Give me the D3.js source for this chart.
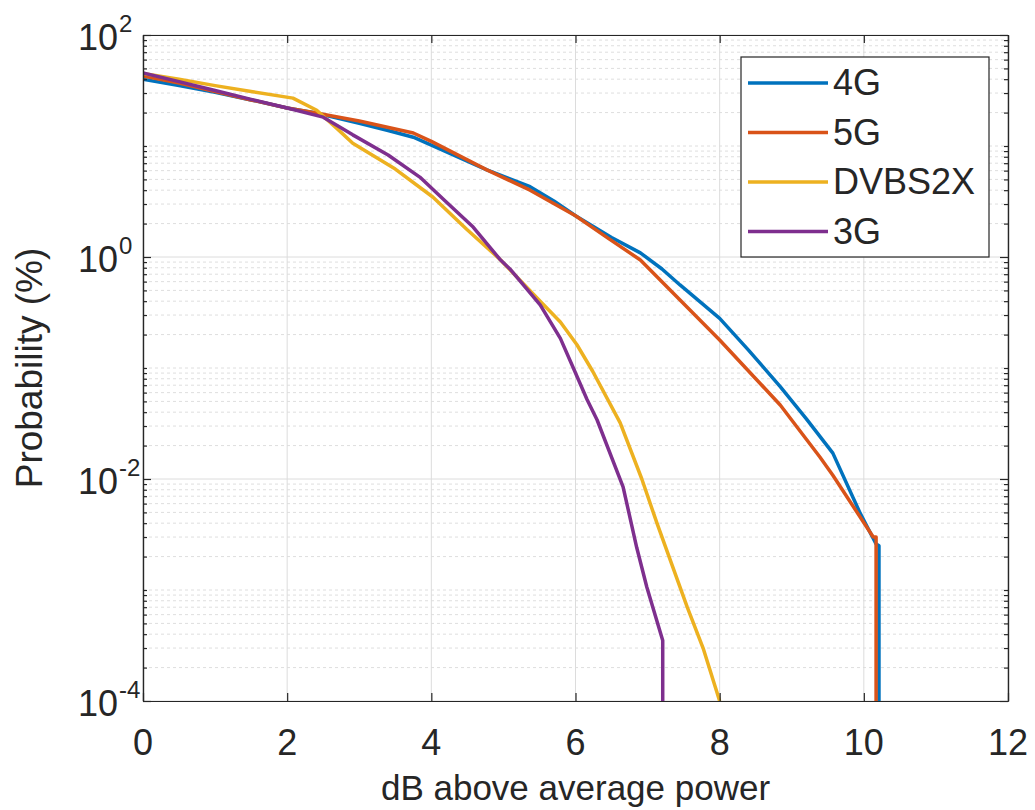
<!DOCTYPE html>
<html>
<head>
<meta charset="utf-8">
<script src="https://cdn.jsdelivr.net/npm/d3@7"></script>
<style>
  body { margin: 0; background: #fff; }
  svg { font-family: "Liberation Sans", Arial, Helvetica, sans-serif; }
</style>
</head>
<body>
<svg id="chart"></svg>
<script>
// CCDF of signal power
var seriesNames = ["4G", "5G", "DVBS2X", "3G"];
var seriesColors = ["#0072BD", "#D95319", "#EDB120", "#7E2F8E"];

var db4G = [0, 0.5, 1, 1.5, 2, 2.4, 3, 3.4, 3.75, 4, 4.77, 5.37, 5.7, 6, 6.5, 6.9, 7.2, 7.45, 8, 8.4, 8.84, 9.2, 9.57, 9.95, 10.17, 10.21, 10.21];
var prob4G = [40, 35, 30.5, 26, 22, 19.8, 16, 13.8, 12, 10.2, 6.1, 4.3, 3.2, 2.35, 1.5, 1.09, 0.78, 0.56, 0.28, 0.145, 0.068, 0.035, 0.0171, 0.0049, 0.0026, 0.0025, 0.0001];

var db5G = [0, 0.5, 1, 1.5, 2, 2.4, 3, 3.75, 4, 4.77, 5.37, 6, 6.45, 6.9, 7.45, 8, 8.84, 9.39, 9.57, 10.13, 10.17, 10.17];
var prob5G = [42.8, 37, 31, 26, 22, 19.8, 16.8, 13.1, 11, 6.1, 4.0, 2.35, 1.48, 0.94, 0.41, 0.179, 0.0464, 0.0158, 0.0108, 0.003, 0.003, 0.0001];

var dbDVB = [0, 0.5, 1, 1.5, 2.08, 2.41, 2.7, 2.91, 3.5, 4.02, 4.49, 4.95, 5.51, 5.79, 6.02, 6.24, 6.62, 6.92, 7.13, 7.55, 7.77, 8.0];
var probDVB = [45, 40, 35, 31, 27, 21, 14.2, 10.6, 6.2, 3.47, 1.78, 0.955, 0.4, 0.26, 0.162, 0.093, 0.032, 0.01, 0.004, 0.0007, 0.0003, 0.0001];

var db3G = [0, 0.5, 1, 1.5, 2, 2.5, 2.91, 3.4, 3.84, 4.2, 4.58, 4.95, 5.09, 5.51, 5.79, 5.97, 6.16, 6.3, 6.66, 6.85, 6.99, 7.21, 7.21];
var prob3G = [45.5, 38, 31.6, 26.3, 22, 18.2, 12.6, 8.3, 5.25, 3.16, 1.86, 0.955, 0.78, 0.37, 0.185, 0.1, 0.052, 0.034, 0.0085, 0.0024, 0.00106, 0.00035, 0.0001];

var xTicks = [0, 2, 4, 6, 8, 10, 12];
var yTicks = [1e-4, 1e-2, 1e0, 1e2];
var yExponents = ["-4", "-2", "0", "2"];

var xLabel = "dB above average power";
var yLabel = "Probability (%)";

var width = 1035,
  height = 810;
var plotLeft = 143, plotRight = 1008, plotTop = 35, plotBottom = 701;
var ink = "#262626";

var svg = d3.select("#chart")
  .attr("width", width)
  .attr("height", height);

var x = d3.scaleLinear().domain([0, 12]).range([plotLeft, plotRight]);
var y = d3.scaleLog().domain([1e-4, 1e2]).range([plotBottom, plotTop]);

// minor values for the log axis (odd decades count as minor here)
var yMinor = [];
for (var e = -4; e < 2; e++) {
  for (var k = 1; k <= 9; k++) {
    if (k == 1 && e % 2 == 0) continue;
    yMinor.push(k * Math.pow(10, e));
  }
}

// grid
var grid = svg.append("g");
grid.selectAll(".ymin").data(yMinor).enter().append("line")
  .attr("x1", plotLeft).attr("x2", plotRight)
  .attr("y1", function(d) { return y(d); })
  .attr("y2", function(d) { return y(d); })
  .attr("stroke", "#dedede")
  .attr("stroke-dasharray", "3,3")
  .attr("stroke-width", 1);
grid.selectAll(".ymaj").data(yTicks).enter().append("line")
  .attr("x1", plotLeft).attr("x2", plotRight)
  .attr("y1", function(d) { return y(d); })
  .attr("y2", function(d) { return y(d); })
  .attr("stroke", "#dcdcdc")
  .attr("stroke-width", 1);
grid.selectAll(".xmaj").data(xTicks).enter().append("line")
  .attr("y1", plotTop).attr("y2", plotBottom)
  .attr("x1", function(d) { return x(d); })
  .attr("x2", function(d) { return x(d); })
  .attr("stroke", "#dcdcdc")
  .attr("stroke-width", 1);

// curves
svg.append("clipPath").attr("id", "plotclip")
  .append("rect")
  .attr("x", plotLeft).attr("y", plotTop - 2)
  .attr("width", plotRight - plotLeft).attr("height", plotBottom - plotTop + 2);

var series = [
  { name: seriesNames[0], xs: db4G, ps: prob4G },
  { name: seriesNames[1], xs: db5G, ps: prob5G },
  { name: seriesNames[2], xs: dbDVB, ps: probDVB },
  { name: seriesNames[3], xs: db3G, ps: prob3G }
];

var line = d3.line()
  .x(function(d) { return x(d[0]); })
  .y(function(d) { return y(d[1]); });

svg.append("g").attr("clip-path", "url(#plotclip)")
  .selectAll("path").data(series).enter().append("path")
  .attr("d", function(s) { return line(d3.zip(s.xs, s.ps)); })
  .attr("fill", "none")
  .attr("stroke", function(s, i) { return seriesColors[i]; })
  .attr("stroke-width", 3.5)
  .attr("stroke-linejoin", "round");

// axes, ticks inward on all four sides
function styleAxis(g) {
  g.selectAll("path").attr("stroke", ink).attr("stroke-width", 1.2);
  g.selectAll("line").attr("stroke", ink).attr("stroke-width", 1.2);
}

svg.append("g").attr("transform", "translate(0," + plotBottom + ")")
  .call(d3.axisBottom(x).tickValues(xTicks).tickSize(-8).tickSizeOuter(0).tickFormat(""))
  .call(styleAxis);
svg.append("g").attr("transform", "translate(0," + plotTop + ")")
  .call(d3.axisTop(x).tickValues(xTicks).tickSize(-8).tickSizeOuter(0).tickFormat(""))
  .call(styleAxis);
svg.append("g").attr("transform", "translate(" + plotLeft + ",0)")
  .call(d3.axisLeft(y).tickValues(yTicks).tickSize(-8).tickSizeOuter(0).tickFormat(""))
  .call(styleAxis);
svg.append("g").attr("transform", "translate(" + plotRight + ",0)")
  .call(d3.axisRight(y).tickValues(yTicks).tickSize(-8).tickSizeOuter(0).tickFormat(""))
  .call(styleAxis);
svg.append("g").attr("transform", "translate(" + plotLeft + ",0)")
  .call(d3.axisLeft(y).tickValues(yMinor).tickSize(-4).tickSizeOuter(0).tickFormat(""))
  .call(styleAxis);
svg.append("g").attr("transform", "translate(" + plotRight + ",0)")
  .call(d3.axisRight(y).tickValues(yMinor).tickSize(-4).tickSizeOuter(0).tickFormat(""))
  .call(styleAxis);

// tick labels
svg.append("g").selectAll("text").data(xTicks).enter().append("text")
  .attr("x", function(d) { return x(d); })
  .attr("y", 755)
  .attr("text-anchor", "middle")
  .attr("font-size", 36)
  .attr("fill", ink)
  .text(function(d) { return d; });

var yl = svg.append("g").selectAll("g").data(yTicks).enter().append("g")
  .attr("transform", function(d) { return "translate(118," + (y(d) + 15) + ")"; });
yl.append("text")
  .attr("text-anchor", "end")
  .attr("font-size", 36)
  .attr("fill", ink)
  .text("10");
yl.append("text")
  .attr("x", 1)
  .attr("y", -18)
  .attr("font-size", 24)
  .attr("fill", ink)
  .text(function(d, i) { return yExponents[i]; });

// axis titles
svg.append("text")
  .attr("x", (plotLeft + plotRight) / 2)
  .attr("y", 800)
  .attr("text-anchor", "middle")
  .attr("font-size", 35)
  .attr("fill", ink)
  .text(xLabel);
svg.append("text")
  .attr("transform", "translate(42," + ((plotTop + plotBottom) / 2) + ") rotate(-90)")
  .attr("text-anchor", "middle")
  .attr("font-size", 37)
  .attr("fill", ink)
  .text(yLabel);

// legend
var legend = svg.append("g");
legend.append("rect")
  .attr("x", 741).attr("y", 57)
  .attr("width", 248).attr("height", 200)
  .attr("fill", "#fff")
  .attr("stroke", ink)
  .attr("stroke-width", 1.2);
var rows = legend.selectAll("g").data(series).enter().append("g")
  .attr("transform", function(d, i) { return "translate(0," + (83 + i * 49.5) + ")"; });
rows.append("line")
  .attr("x1", 748).attr("x2", 828)
  .attr("stroke", function(d, i) { return seriesColors[i]; })
  .attr("stroke-width", 3.5);
rows.append("text")
  .attr("x", 833)
  .attr("y", 12)
  .attr("font-size", 36)
  .attr("fill", ink)
  .text(function(d) { return d.name; });
</script>
</body>
</html>
